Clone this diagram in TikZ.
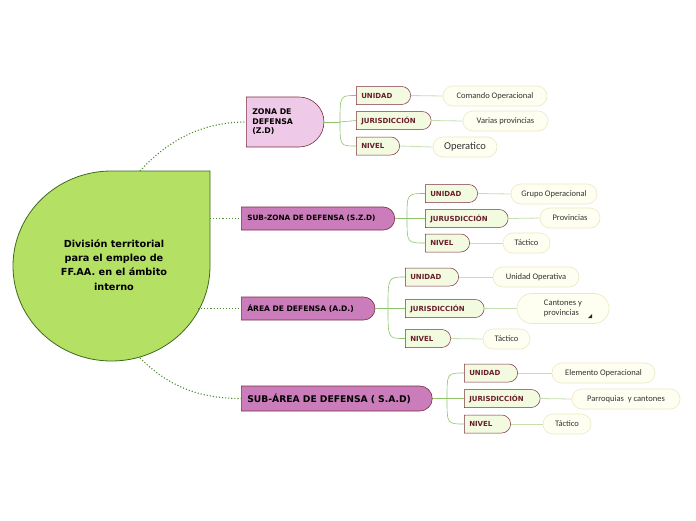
\documentclass[tikz,border=0pt]{standalone}
\usepackage{fontspec}
\setmainfont{Carlito}
\newfontfamily\rotulo{DejaVu Sans}
\usetikzlibrary{shapes.misc}

\definecolor{verdeRaiz}{HTML}{B4E063}
\definecolor{bordeRaiz}{HTML}{3F6A1F}
\definecolor{punteado}{HTML}{4E8C2E}
\definecolor{rosaClaro}{HTML}{EFCAE8}
\definecolor{rosaFuerte}{HTML}{CB7DBB}
\definecolor{granate}{HTML}{7A2E3E}
\definecolor{textoGranate}{HTML}{6A1F2B}
\definecolor{verdeHoja}{HTML}{F2FADF}
\definecolor{lineaRama}{HTML}{8FC46C}
\definecolor{lineaHoja}{HTML}{C5E0AE}
\definecolor{crema}{HTML}{FFFFF1}
\definecolor{bordeCrema}{HTML}{ECE7C2}

\tikzset{
    zona/.style={rounded rectangle, rounded rectangle west arc=none, draw=granate,
        line width=0.6pt, fill=rosaFuerte, minimum height=23pt, inner xsep=6pt,
        anchor=west, align=left, font=\rotulo\bfseries\fontsize{7.3}{9}\selectfont},
    rama/.style={rounded rectangle, rounded rectangle west arc=none, draw=granate,
        line width=0.5pt, fill=verdeHoja, minimum height=18pt, inner xsep=5pt,
        anchor=west, align=left, text=textoGranate,
        font=\rotulo\bfseries\fontsize{7}{8}\selectfont},
    hoja/.style={rounded rectangle, draw=bordeCrema, line width=0.6pt, fill=crema,
        minimum height=20pt, inner xsep=3pt, text=black!80,
        font=\fontsize{8.5}{10}\selectfont},
    enlace/.style={punteado, line width=1.1pt, dotted},
    tronco/.style={lineaRama, line width=0.9pt},
    brazo/.style={lineaRama, line width=0.6pt},
    hilo/.style={lineaHoja, line width=0.8pt}
}

\begin{document}
\begin{tikzpicture}[x=1pt,y=-1pt]
    \useasboundingbox[fill=white] (0,0) rectangle (696,520);

    % raiz
    \draw[fill=verdeRaiz, draw=bordeRaiz, line width=0.8pt]
        (210,171) -- (210,266) arc[start angle=0, end angle=270, x radius=98.5, y radius=95] -- cycle;
    \node[align=center, font=\rotulo\bfseries\fontsize{9.7}{14.3}\selectfont] (raiz) at (114,265)
        {División territorial\\para el empleo de\\FF.AA. en el ámbito\\interno};
    \coordinate (r1) at (140,171);
    \coordinate (r2) at (210,218.5);
    \coordinate (r3) at (198,308.5);
    \coordinate (r4) at (140,358);

    % nivel 1
    \node[zona, fill=rosaClaro, minimum height=50pt, text width=62pt,
          font=\rotulo\bfseries\fontsize{7.8}{9.6}\selectfont] (zd) at (246,122) {ZONA DE\\DEFENSA\\(Z.D)};
    \node[zona, text width=141pt] (szd) at (241,218.5) {SUB-ZONA DE DEFENSA (S.Z.D)};
    \node[zona, text width=121pt, font=\rotulo\bfseries\fontsize{7.6}{9}\selectfont] (ad) at (241,308.5) {ÁREA DE DEFENSA (A.D.)};
    \node[zona, minimum height=25pt, text width=178pt, font=\rotulo\bfseries\fontsize{9.2}{11}\selectfont] (sad) at (241,398.5) {SUB-ÁREA DE DEFENSA ( S.A.D)};

    \draw[enlace] (r1) .. controls (170,138) and (205,122) .. (zd.west);
    \draw[enlace] (r2) -- (szd.west);
    \draw[enlace] (r3) -- (ad.west);
    \draw[enlace] (r4) .. controls (172,390) and (205,398.5) .. (sad.west);

    % grupo 1
    \node[rama, text width=44pt] (u1) at (356,95.5) {UNIDAD};
    \node[rama, text width=64pt] (j1) at (356,120.5) {JURISDICCIÓN};
    \node[rama, text width=33pt] (n1) at (356,146) {NIVEL};
    \node[hoja, minimum width=110pt] (c1) at (495,96) {Comando Operacional};
    \node[hoja, minimum width=91pt] (v1) at (505.5,121) {Varias provincias};
    \node[hoja, minimum width=70pt, font=\fontsize{10.5}{11}\selectfont] (o1) at (465,147) {Operatico};
    \coordinate (b1) at (340,122);
    \draw[tronco] (zd.east) -- (b1);
    \draw[brazo] (b1) .. controls (b1 |- u1.west) .. (u1.west);
    \draw[brazo] (b1) -- (j1.west);
    \draw[brazo] (b1) .. controls (b1 |- n1.west) .. (n1.west);
    \draw[hilo] (u1.east) -- (c1.west);
    \draw[hilo] (j1.east) -- (v1.west);
    \draw[hilo] (n1.east) -- (o1.west);

    % grupo 2
    \node[rama, text width=42pt] (u2) at (425,193.5) {UNIDAD};
    \node[rama, text width=72pt] (j2) at (425,218.5) {JURUSDICCIÓN};
    \node[rama, text width=34pt] (n2) at (425,243) {NIVEL};
    \node[hoja, minimum width=92pt] (g2) at (554,194) {Grupo Operacional};
    \node[hoja, minimum width=66pt] (p2) at (570,218) {Provincias};
    \node[hoja, minimum width=53pt] (t2) at (526.5,243) {Táctico};
    \coordinate (b2) at (407,218.5);
    \draw[tronco] (szd.east) -- (b2);
    \draw[brazo] (b2) .. controls (b2 |- u2.west) .. (u2.west);
    \draw[brazo] (b2) -- (j2.west);
    \draw[brazo] (b2) .. controls (b2 |- n2.west) .. (n2.west);
    \draw[hilo] (u2.east) -- (g2.west);
    \draw[hilo] (j2.east) -- (p2.west);
    \draw[hilo] (n2.east) -- (t2.west);

    % grupo 3
    \node[rama, text width=43pt] (u3) at (405,277) {UNIDAD};
    \node[rama, text width=68pt] (j3) at (405,308.5) {JURISDICCIÓN};
    \node[rama, text width=35pt] (n3) at (405,338.5) {NIVEL};
    \node[hoja, minimum width=92pt] (uo3) at (536,277) {Unidad Operativa};
    \node[hoja, minimum width=98pt, minimum height=30pt, align=left] (cp3) at (563,308.5) {Cantones y\\provincias\hspace{20pt}};
    \node[hoja, minimum width=53pt] (t3) at (506.5,339) {Táctico};
    \fill[black!85] (592,314) -- (592,318) -- (588,318) -- cycle;
    \coordinate (b3) at (388,308.5);
    \draw[tronco] (ad.east) -- (b3);
    \draw[brazo] (b3) .. controls (b3 |- u3.west) .. (u3.west);
    \draw[brazo] (b3) -- (j3.west);
    \draw[brazo] (b3) .. controls (b3 |- n3.west) .. (n3.west);
    \draw[hilo] (u3.east) -- (uo3.west);
    \draw[hilo] (j3.east) -- (cp3.west);
    \draw[hilo] (n3.east) -- (t3.west);

    % grupo 4
    \node[rama, text width=43pt] (u4) at (464,373) {UNIDAD};
    \node[rama, text width=65pt] (j4) at (464,398.5) {JURISDICCIÓN};
    \node[rama, text width=36pt] (n4) at (464,424) {NIVEL};
    \node[hoja, minimum width=109pt] (e4) at (603.5,373) {Elemento Operacional};
    \node[hoja, minimum width=114pt] (pc4) at (626,399) {Parroquias\ \ y cantones};
    \node[hoja, minimum width=54pt] (t4) at (567,424) {Táctico};
    \coordinate (b4) at (447,398.5);
    \draw[tronco] (sad.east) -- (b4);
    \draw[brazo] (b4) .. controls (b4 |- u4.west) .. (u4.west);
    \draw[brazo] (b4) -- (j4.west);
    \draw[brazo] (b4) .. controls (b4 |- n4.west) .. (n4.west);
    \draw[hilo] (u4.east) -- (e4.west);
    \draw[hilo] (j4.east) -- (pc4.west);
    \draw[hilo] (n4.east) -- (t4.west);
\end{tikzpicture}
\end{document}
